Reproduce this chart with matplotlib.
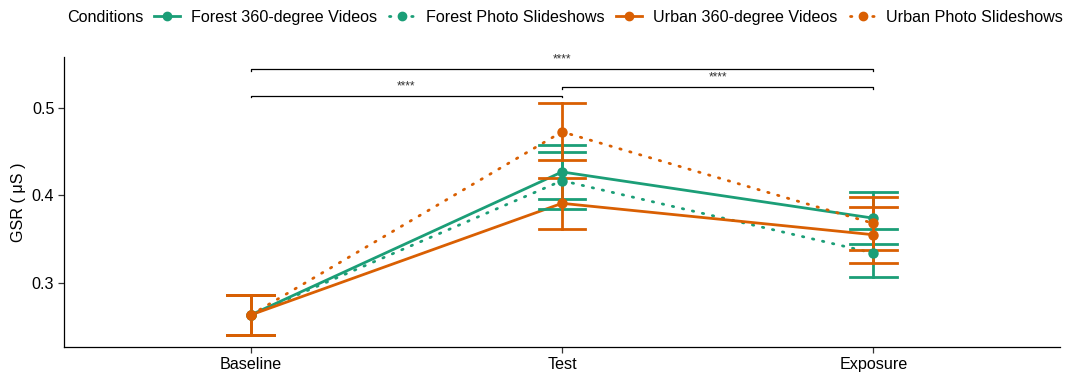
import matplotlib
matplotlib.use("Agg")
import matplotlib.pyplot as plt
from matplotlib.lines import Line2D
import numpy as np

plt.rcParams['font.family'] = ['Liberation Sans', 'DejaVu Sans']

phases = ["Baseline", "Test", "Exposure"]
conditions = ["Forest 360-degree Videos", "Forest Photo Slideshows",
              "Urban 360-degree Videos", "Urban Photo Slideshows"]
means = {
    "Forest 360-degree Videos": [0.263, 0.427, 0.374],
    "Forest Photo Slideshows":  [0.263, 0.417, 0.334],
    "Urban 360-degree Videos":  [0.263, 0.391, 0.355],
    "Urban Photo Slideshows":   [0.263, 0.473, 0.368],
}
errors = {
    "Forest 360-degree Videos": [0.023, 0.031, 0.030],
    "Forest Photo Slideshows":  [0.023, 0.0325, 0.028],
    "Urban 360-degree Videos":  [0.023, 0.029, 0.032],
    "Urban Photo Slideshows":   [0.023, 0.0325, 0.030],
}
colors = {"Forest 360-degree Videos": "#1B9E77", "Forest Photo Slideshows": "#1B9E77",
          "Urban 360-degree Videos": "#D95F02", "Urban Photo Slideshows": "#D95F02"}
styles = {"Forest 360-degree Videos": "-", "Forest Photo Slideshows": ":",
          "Urban 360-degree Videos": "-", "Urban Photo Slideshows": ":"}

comparisons = [(0, 1), (1, 2), (0, 2)]
comp_y = [0.5145, 0.524, 0.545]
comp_labels = ["****", "****", "****"]

FS = 11.6
fig = plt.figure(figsize=(10.81, 3.74), dpi=100)
ax = fig.add_axes([0.0592, 0.0714, 0.9214, 0.7762])

x = np.arange(len(phases))
hw = 0.075
DOT = (0, (0.5, 3.2))
for c in conditions:
    col = colors[c]
    m = np.array(means[c]); e = np.array(errors[c])
    if styles[c] == ":":
        ax.plot(x, m, color=col, lw=2.0, linestyle=DOT, dash_capstyle='round', zorder=2)
    else:
        ax.plot(x, m, color=col, lw=2.0, linestyle='-', zorder=2)
    for xi, mi, ei in zip(x, m, e):
        ax.plot([xi, xi], [mi - ei, mi + ei], color=col, lw=2.0, zorder=3)
        ax.plot([xi - hw, xi + hw], [mi - ei, mi - ei], color=col, lw=2.0, zorder=3)
        ax.plot([xi - hw, xi + hw], [mi + ei, mi + ei], color=col, lw=2.0, zorder=3)
    ax.plot(x, m, 'o', color=col, ms=6.5, zorder=4)

tip = 0.002
for (a, b), yv, lab in zip(comparisons, comp_y, comp_labels):
    ax.plot([a, a, b, b], [yv - tip, yv, yv, yv - tip], color='black', lw=0.9, zorder=5)
    ax.text((a + b) / 2, yv + 0.004, lab, ha='center', va='bottom', fontsize=8.5, color='#333333')

ax.set_xlim(-0.6, 2.6)
ax.set_ylim(0.2259, 0.5588)
ax.set_xticks(x)
ax.set_xticklabels(phases, fontsize=FS, color='black')
ax.set_yticks([0.3, 0.4, 0.5])
ax.set_yticklabels(["0.3", "0.4", "0.5"], fontsize=FS, color='black')
ax.set_ylabel("GSR ( μS )", fontsize=FS, labelpad=4)
for s in ['top', 'right']:
    ax.spines[s].set_visible(False)
for s in ['left', 'bottom']:
    ax.spines[s].set_linewidth(0.9)
ax.tick_params(axis='both', length=4, width=0.9, color='#333333', pad=3)

handles = []
for c in conditions:
    if styles[c] == ":":
        h = Line2D([0], [0], color=colors[c], lw=2.0, linestyle=(0, (0.5, 3.5)),
                   dash_capstyle='round', marker='o', ms=6)
    else:
        h = Line2D([0], [0], color=colors[c], lw=2.0, marker='o', ms=6)
    handles.append(h)
fig.text(0.062, 0.954, "Conditions", fontsize=FS, va='center', ha='left')
fig.legend(handles, conditions, loc='center left', bbox_to_anchor=(0.1425, 0.954),
           ncol=4, frameon=False, fontsize=FS, handlelength=1.6, handletextpad=0.68,
           columnspacing=0.75, borderpad=0, borderaxespad=0)

fig.savefig("out.png", dpi=100)
